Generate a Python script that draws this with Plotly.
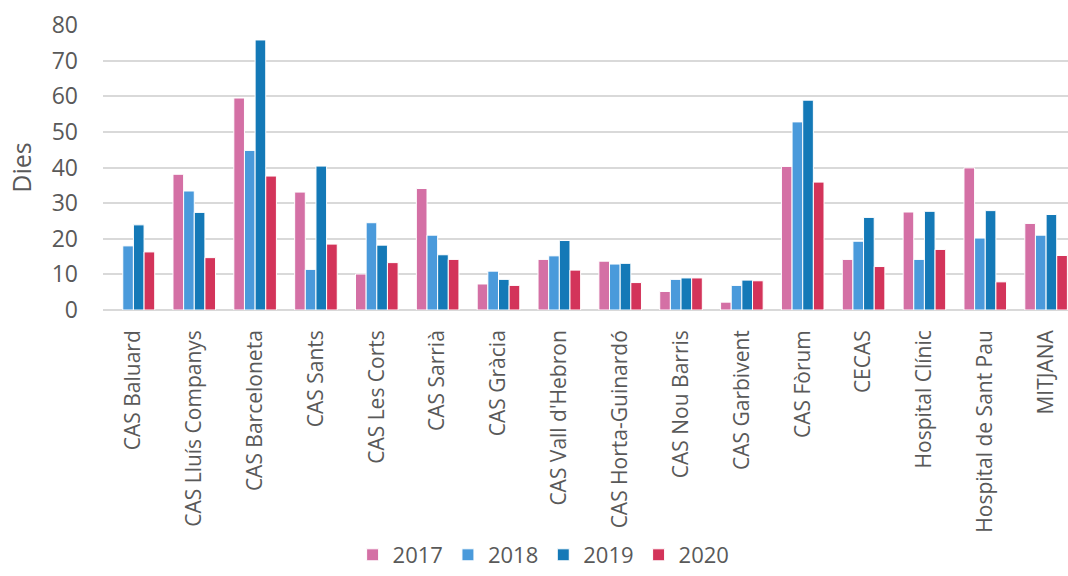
import plotly.graph_objects as go

categories = ["CAS Baluard", "CAS Lluís Companys", "CAS Barceloneta", "CAS Sants",
              "CAS Les Corts", "CAS Sarrià", "CAS Gràcia", "CAS Vall d'Hebron",
              "CAS Horta-Guinardó", "CAS Nou Barris", "CAS Garbivent", "CAS Fòrum",
              "CECAS", "Hospital Clínic", "Hospital de Sant Pau", "MITJANA"]

v2017 = [None, 38.1, 59.5, 33.1, 10.1, 34.1, 7.3, 14.2, 13.7, 5.2, 2.2, 40.3, 14.2, 27.5, 39.9, 24.3]
v2018 = [18.0, 33.4, 44.8, 11.4, 24.5, 21.0, 10.9, 15.2, 12.9, 8.6, 6.9, 52.8, 19.3, 14.2, 20.2, 21.0]
v2019 = [23.9, 27.4, 75.8, 40.4, 18.2, 15.5, 8.6, 19.5, 13.1, 9.0, 8.4, 58.9, 26.0, 27.7, 27.9, 26.8]
v2020 = [16.3, 14.7, 37.6, 18.5, 13.3, 14.2, 6.9, 11.2, 7.7, 9.0, 8.2, 35.9, 12.2, 17.0, 7.9, 15.3]

series = [("2017", v2017, "#D470A5"),
          ("2018", v2018, "#4A9ADB"),
          ("2019", v2019, "#1479B7"),
          ("2020", v2020, "#D3345A")]

fig = go.Figure()
for name, vals, color in series:
    fig.add_trace(go.Bar(name=name, x=categories, y=vals, marker_color=color,
                         marker_line_color="white", marker_line_width=1))

font = "Open Sans"
fig.update_layout(
    width=1068, height=576,
    margin=dict(l=103, r=0, t=25, b=266),
    paper_bgcolor="white", plot_bgcolor="white",
    barmode="group", bargap=0.3, bargroupgap=0.0,
    font=dict(family=font, color="#595959"),
    legend=dict(orientation="h", xref="container", yref="container",
                x=0.509, y=0.0, xanchor="center", yanchor="bottom",
                font=dict(size=22, color="#595959"), itemwidth=30,
                traceorder="normal"),
    showlegend=True,
)
fig.update_xaxes(type="category", range=[-0.5, 15.36], tickangle=-90,
                 tickfont=dict(size=21, color="#595959"), showgrid=False,
                 ticks="", showline=False, ticklabelstandoff=15)
fig.update_yaxes(range=[0, 80], dtick=10, showgrid=True, gridcolor="#D9D9D9",
                 gridwidth=1.5, zeroline=True, zerolinecolor="#D9D9D9", zerolinewidth=1.5,
                 tickfont=dict(size=23, color="#595959"), ticks="", ticklabelstandoff=24,
                 title=dict(text="Dies", font=dict(size=25, color="#595959"), standoff=12))

fig.write_html("out.html")
